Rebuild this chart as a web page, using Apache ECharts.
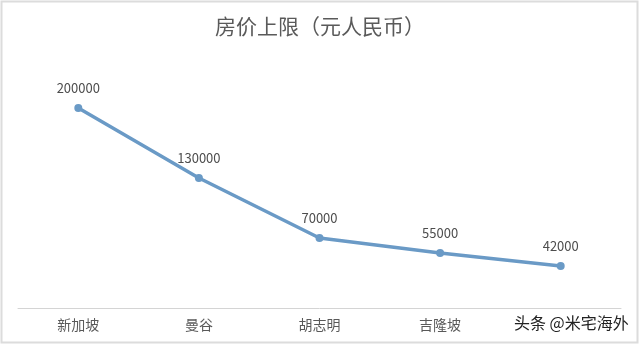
<!DOCTYPE html>
<html><head><meta charset="utf-8">
<script src="https://cdn.jsdelivr.net/npm/echarts@6/dist/echarts.min.js"></script>
<style>html,body{margin:0;padding:0;background:#fff}#c{width:640px;height:345px}</style>
</head><body><div id="c"></div>
<script>
const titleText = '房价上限（元人民币）';
const categories = ['新加坡', '曼谷', '胡志明', '吉隆坡', '马尼拉'];
const prices = [200000, 130000, 70000, 55000, 42000];
const watermark = '头条 @米宅海外';

const chart = echarts.init(document.getElementById('c'));
const font = '"Noto Sans CJK SC", "Microsoft YaHei", sans-serif';
chart.setOption({
  animation: false,
  backgroundColor: '#ffffff',
  title: {
    text: titleText, left: 'center', top: 11,
    textStyle: { fontFamily: font, fontSize: 21, fontWeight: 'normal', color: '#5a5a5a' }
  },
  grid: { left: 18, right: 19, top: 58, bottom: 37 },
  xAxis: {
    type: 'category', data: categories, boundaryGap: true,
    axisLine: { lineStyle: { color: '#d4d4d4', width: 1 } },
    axisTick: { show: false },
    axisLabel: { fontFamily: font, fontSize: 14, color: '#595959', margin: 10 }
  },
  yAxis: {
    type: 'value', min: 0, max: 250000, show: false, splitLine: { show: false }
  },
  series: [{
    type: 'line', data: prices,
    lineStyle: { color: '#6a9ac6', width: 3.5 },
    itemStyle: { color: '#6a9ac6' },
    symbol: 'circle', symbolSize: 8,
    label: { show: true, position: 'top', distance: 9, fontFamily: font, fontSize: 13, color: '#4d4d4d' }
  }],
  graphic: [
    { type: 'rect', shape: { x: 1.5, y: 1.5, width: 636, height: 341 }, style: { fill: 'none', stroke: '#dcdcdc', lineWidth: 2 }, z: 100 },
    { type: 'rect', shape: { x: 510, y: 312, width: 124, height: 27 }, style: { fill: '#ffffff' }, z: 101 },
    { type: 'text', left: 514, top: 315, z: 102,
      style: { text: watermark, fontFamily: font, fontSize: 16, fill: '#222222' } }
  ]
});
</script></body></html>
